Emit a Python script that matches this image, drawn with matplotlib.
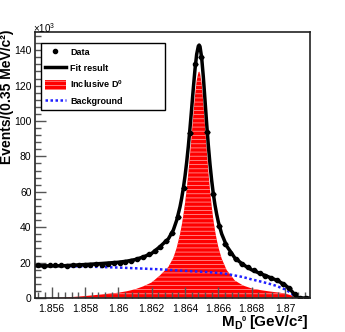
import numpy as np
import matplotlib.pyplot as plt
from matplotlib.ticker import MultipleLocator, FuncFormatter
from matplotlib.lines import Line2D
from matplotlib.patches import Patch

plt.rcParams['font.family'] = ['Liberation Sans', 'DejaVu Sans']
plt.rcParams['mathtext.fontset'] = 'custom'
plt.rcParams['mathtext.rm'] = 'Liberation Sans'
plt.rcParams['mathtext.bf'] = 'Liberation Sans:bold'
plt.rcParams['mathtext.it'] = 'Liberation Sans:italic'
plt.rcParams['hatch.linewidth'] = 0.6

# histogram binning (GeV/c^2)
x_lo, x_hi = 1.855, 1.8715
bin_width = 0.00035

# data, events per bin in units of 10^3
counts = [18.4, 18.3, 18.6, 18.4, 18.5, 18.3, 18.6, 18.7, 18.5, 18.8,
          19.0, 18.9, 19.3, 19.6, 19.9, 20.5, 21.0, 21.9, 23.0, 24.6,
          26.3, 28.9, 32.3, 37.0, 45.8, 62.0, 93.0, 132.5, 136.0, 94.0,
          58.5, 40.5, 30.5, 25.5, 21.8, 19.4, 17.4, 15.6, 14.2, 12.7,
          11.3, 10.1, 7.7, 5.5, 2.1, 0.1, 0.0]

# fit components (10^3 events)
fit_mass = [1.8550, 1.8560, 1.8567, 1.8570, 1.8580, 1.8590, 1.8600, 1.8605, 1.8610, 1.8615,
            1.8620, 1.8625, 1.8630, 1.8633, 1.8635, 1.8637, 1.8638, 1.8639, 1.8640, 1.8641,
            1.8642, 1.8643, 1.8644, 1.8645, 1.8646, 1.8647, 1.8648, 1.86485, 1.8649, 1.8650,
            1.8651, 1.8652, 1.8653, 1.8654, 1.8655, 1.8656, 1.8657, 1.8658, 1.8659, 1.8660,
            1.8662, 1.8665, 1.8670, 1.8675, 1.8680, 1.8685, 1.8690, 1.8694, 1.8697, 1.8700,
            1.8702, 1.8704, 1.8705, 1.8706, 1.8707, 1.8708, 1.8712, 1.8715]
signal = [0.0, 0.05, 0.2, 0.4, 1.1, 2.0, 3.0, 3.8, 4.9, 6.6,
          8.8, 12.8, 17.5, 22.7, 28.3, 36.0, 40.9, 46.7, 53.4, 61.4,
          70.5, 80.8, 92.0, 103.5, 114.2, 122.7, 127.4, 128.0, 127.2, 120.9,
          110.1, 97.1, 83.8, 71.6, 61.0, 52.0, 44.4, 38.2, 33.1, 28.8,
          22.3, 15.8, 9.8, 7.0, 5.4, 4.5, 3.8, 3.3, 3.0, 2.5,
          2.0, 1.4, 1.0, 0.6, 0.2, 0.0, 0.0, 0.0]
background = [18.2, 18.1, 18.0, 18.0, 17.8, 17.5, 17.2, 17.0, 16.8, 16.6,
              16.4, 16.2, 15.9, 15.7, 15.6, 15.5, 15.45, 15.4, 15.35, 15.3,
              15.25, 15.2, 15.15, 15.1, 15.05, 15.0, 14.95, 14.93, 14.9, 14.85,
              14.8, 14.75, 14.7, 14.62, 14.55, 14.48, 14.4, 14.32, 14.24, 14.15,
              13.95, 13.6, 12.7, 11.8, 10.5, 9.4, 8.2, 7.1, 6.0, 4.9,
              3.8, 2.5, 1.8, 1.0, 0.3, 0.0, 0.0, 0.0]

counts = np.array(counts)
signal = np.array(signal)
background = np.array(background)
total = signal + background
centers = x_lo + bin_width * (np.arange(len(counts)) + 0.5)

fig = plt.figure(figsize=(3.45, 3.32), dpi=100)
ax = fig.add_axes([35/345, 34/332, 275/345, 266/332])

ax.fill_between(fit_mass, 0, signal, facecolor='red', edgecolor='#ff9090',
                hatch='----', linewidth=0)
ax.plot(fit_mass, background, color='#2020ff', ls=(0, (1, 1)), lw=1.8)
ax.plot(fit_mass, total, color='black', lw=2.5)
ax.errorbar(centers, counts, xerr=bin_width/2, yerr=np.sqrt(counts*1000)/1000,
            fmt='o', ms=3, color='black', elinewidth=1, capsize=0)

ax.set_xlim(x_lo, x_hi)
ax.set_ylim(0, 150.3)
ax.xaxis.set_major_locator(MultipleLocator(0.002))
ax.xaxis.set_minor_locator(MultipleLocator(0.0004))
ax.yaxis.set_major_locator(MultipleLocator(20))
ax.yaxis.set_minor_locator(MultipleLocator(4))
ax.xaxis.set_major_formatter(FuncFormatter(lambda v, p: '%g' % round(v, 4)))
ax.tick_params(which='both', direction='in', top=False, right=False,
               color='#555555', labelsize=7.5)
ax.tick_params(which='major', length=8, width=1)
ax.tick_params(which='minor', length=4, width=1)
ax.tick_params(axis='x', pad=4)
ax.tick_params(axis='y', pad=2.5)
for s in ax.spines.values():
    s.set_linewidth(1.2)
    s.set_color('#222222')

fig.text(33/345, 1-28/332, r'$\times$10$^{3}$', fontsize=7, ha='left', va='center')

# x title built from pieces: M, subscript D, superscript 0, then units
renderer = fig.canvas.get_renderer()
base_y = 6/332
units = fig.text(308/345, base_y, '[GeV/c²]', fontsize=11, weight='bold',
                 ha='right', va='baseline')
x_px = units.get_window_extent(renderer).x0 - 3
zero = fig.text(x_px/345, base_y + 5/332, '0', fontsize=5.5, weight='bold',
                ha='right', va='baseline')
x_px = zero.get_window_extent(renderer).x0
dsub = fig.text(x_px/345, base_y - 3/332, 'D', fontsize=7.5, weight='bold',
                ha='right', va='baseline')
x_px = dsub.get_window_extent(renderer).x0
fig.text(x_px/345, base_y, 'M', fontsize=11, weight='bold', ha='right', va='baseline')

fig.text(7.5/345, 1-30/332, 'Events/(0.35 MeV/c²)',
         fontsize=10, weight='bold', rotation=90, ha='center', va='top')

handles = [Line2D([], [], ls='none', marker='o', ms=3, color='black'),
           Line2D([], [], color='black', lw=2.5),
           Patch(facecolor='red', edgecolor='#ff9090', hatch='----', lw=0),
           Line2D([], [], color='#2020ff', ls=(0, (1, 1)), lw=1.8)]
labels = ['Data', 'Fit result', r'Inclusive D$^{\mathbf{0}}$', 'Background']
leg = ax.legend(handles, labels, loc='upper left',
                bbox_to_anchor=(41/345, 1-109/332, 124/345, 66/332),
                bbox_transform=fig.transFigure, mode='expand', fancybox=False,
                edgecolor='black', framealpha=1, borderaxespad=0, borderpad=0.45,
                handlelength=2.3, handleheight=1.3, labelspacing=0.65,
                handletextpad=0.45, prop=dict(weight='bold', size=6.5))
leg.get_frame().set_linewidth(1)

fig.savefig('out.png', dpi=100)
